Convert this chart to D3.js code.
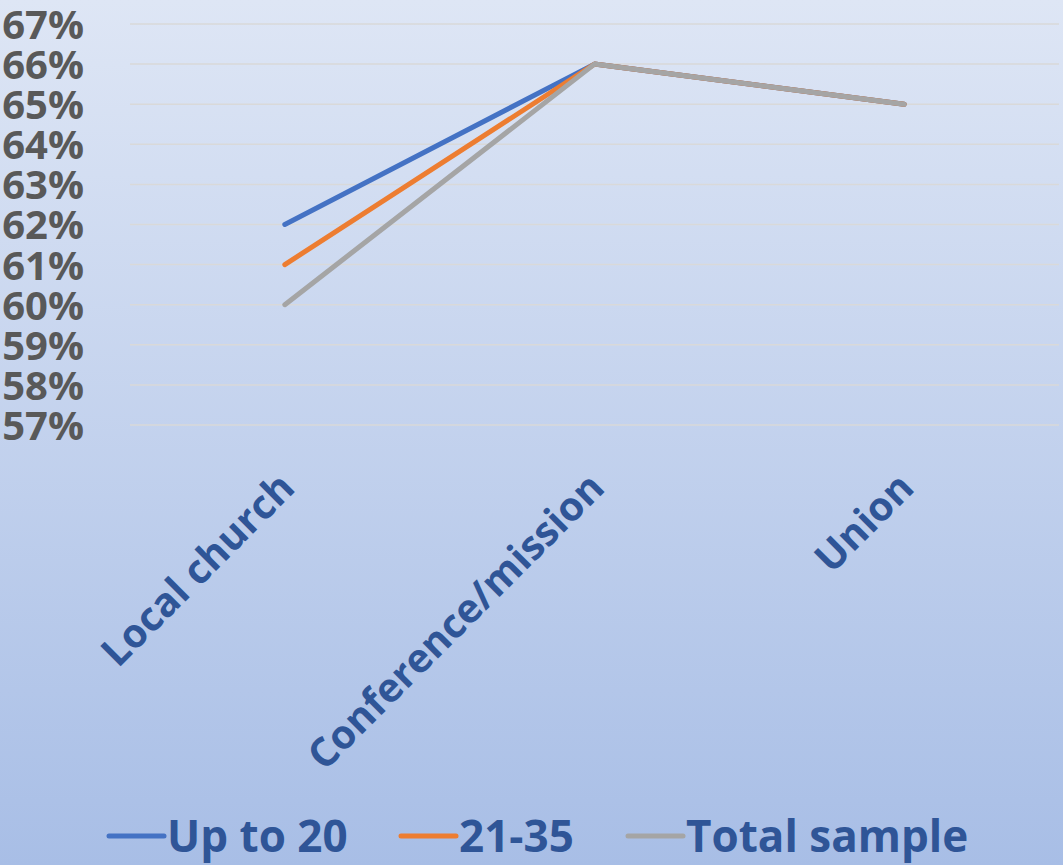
<!DOCTYPE html>
<html><head><meta charset="utf-8">
<script src="https://cdn.jsdelivr.net/npm/d3@7"></script>
<style>html,body{margin:0;padding:0;}svg{display:block;}</style>
</head><body>
<script>
const categories = ["Local church", "Conference/mission", "Union"];
const seriesNames = ["Up to 20", "21-35", "Total sample"];
const upTo20 = [62, 66, 65];
const age21to35 = [61, 66, 65];
const totalSample = [60, 66, 65];
const seriesColors = ["#4472c4", "#ed7d31", "#a5a5a5"];
const yTicks = [57, 58, 59, 60, 61, 62, 63, 64, 65, 66, 67];

const W = 1063, H = 865;
const svg = d3.select("body").append("svg").attr("width", W).attr("height", H);
const defs = svg.append("defs");
const grad = defs.append("linearGradient").attr("id", "bg").attr("x1", 0).attr("y1", 0).attr("x2", 0).attr("y2", 1);
grad.append("stop").attr("offset", "0%").attr("stop-color", "#dee6f5");
grad.append("stop").attr("offset", "100%").attr("stop-color", "#a8bee6");
svg.append("rect").attr("width", W).attr("height", H).attr("fill", "url(#bg)");

const x = d3.scalePoint().domain(categories).range([130, 1059]).padding(0.5);
const y = d3.scaleLinear().domain([57, 67]).range([425, 24]);

// gridlines
svg.append("g").selectAll("line").data(yTicks).join("line")
  .attr("x1", 130).attr("x2", 1059)
  .attr("y1", d => y(d)).attr("y2", d => y(d))
  .attr("stroke", "#d9d9d9").attr("stroke-width", 1.5);

// y axis
const yAxis = d3.axisLeft(y).tickValues(yTicks).tickFormat(d => d + "%").tickSize(0).tickPadding(0);
const yg = svg.append("g").attr("transform", "translate(84,0)").call(yAxis);
yg.select(".domain").remove();
yg.selectAll("text").attr("fill", "#595959").attr("font-family", "'Open Sans', sans-serif")
  .attr("font-weight", "bold").attr("font-size", 40).attr("dy", "0.36em");

// x axis labels
const xg = svg.append("g");
xg.selectAll("text").data(categories).join("text")
  .attr("transform", d => `translate(${x(d) + 12},${490}) rotate(-45)`)
  .attr("text-anchor", "end")
  .attr("fill", "#2f5597").attr("font-family", "'Open Sans', sans-serif")
  .attr("font-weight", "bold").attr("font-size", 40)
  .text(d => d);

// lines
const series = [upTo20, age21to35, totalSample];
const line = d3.line().x((d, i) => x(categories[i])).y(d => y(d));
svg.append("g").selectAll("path").data(series).join("path")
  .attr("d", d => line(d))
  .attr("fill", "none")
  .attr("stroke", (d, i) => seriesColors[i])
  .attr("stroke-width", 5)
  .attr("stroke-linecap", "round")
  .attr("stroke-linejoin", "round");

// legend
const legendX = [109, 401, 628];
const lg = svg.append("g");
seriesNames.forEach((name, i) => {
  const g = lg.append("g").attr("transform", `translate(${legendX[i]},836)`);
  g.append("line").attr("x1", 0).attr("x2", 55).attr("y1", 0).attr("y2", 0)
    .attr("stroke", seriesColors[i]).attr("stroke-width", 5).attr("stroke-linecap", "round");
  g.append("text").attr("x", 58).attr("y", 0).attr("dy", "0.36em")
    .attr("fill", "#2f5597").attr("font-family", "'Open Sans', sans-serif")
    .attr("font-weight", "bold").attr("font-size", 44)
    .text(name);
});
</script>
</body></html>
